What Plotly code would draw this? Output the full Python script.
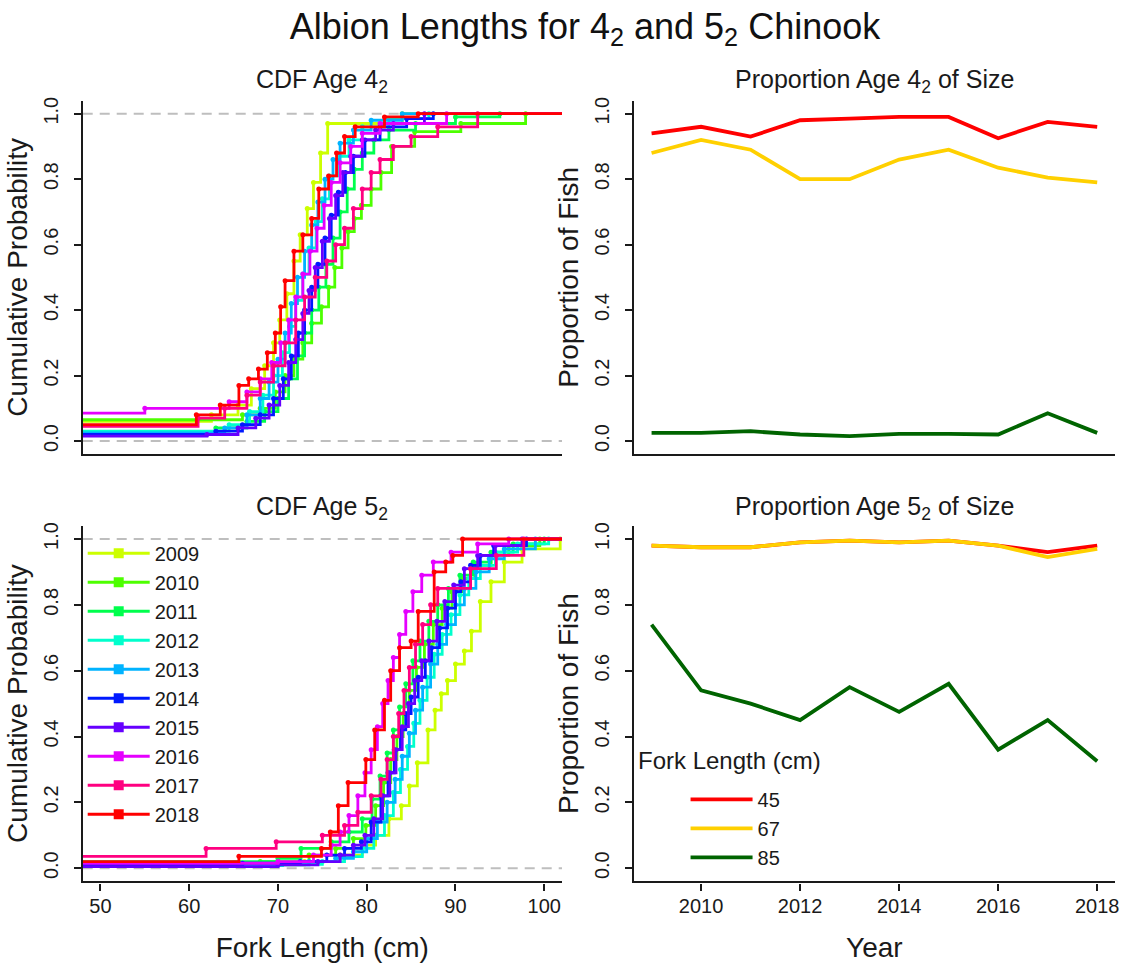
import plotly.graph_objects as go

W, H = 1126, 970
FONT = "Liberation Sans, Arial, sans-serif"
INK = "#1a1a1a"

# ---------------- data ----------------
years = [2009, 2010, 2011, 2012, 2013, 2014, 2015, 2016, 2017, 2018]
year_colors = ["#CCFF00", "#4DFF00", "#00FF4D", "#00FFCC", "#00B3FF",
               "#0019FF", "#6600FF", "#E500FF", "#FF0080", "#FF0000"]

# Age 4_2 empirical CDFs: level left of the plotted range, then (fork length, cumulative probability) steps
a4_start = [0.06, 0.065, 0.025, 0.03, 0.025, 0.02, 0.015, 0.085, 0.045, 0.05]
a4_2009_fl = [62.5, 65.5, 67.0, 68.5, 69.5, 70.2, 71.0, 71.8, 72.5, 73.3, 74.0, 74.8, 75.6, 84.0]
a4_2009_p = [0.08, 0.11, 0.16, 0.23, 0.30, 0.37, 0.45, 0.55, 0.63, 0.71, 0.79, 0.88, 0.97, 1.0]
a4_2010_fl = [66.0, 68.0, 69.7, 70.8, 71.8, 72.8, 73.8, 74.9, 75.7, 76.4, 77.2, 77.9, 78.6, 79.4, 80.5, 81.6, 82.8, 85.4, 90.6, 97.9]
a4_2010_p = [0.08, 0.10, 0.15, 0.20, 0.25, 0.30, 0.36, 0.41, 0.47, 0.53, 0.59, 0.64, 0.68, 0.72, 0.77, 0.82, 0.90, 0.945, 0.97, 1.0]
a4_2011_fl = [63.0, 66.5, 68.5, 70.0, 71.2, 72.2, 73.0, 73.8, 74.6, 75.4, 76.2, 77.0, 77.8, 78.6, 79.5, 80.8, 82.5, 85.5, 90.0, 95.0]
a4_2011_p = [0.04, 0.06, 0.09, 0.13, 0.19, 0.26, 0.33, 0.40, 0.47, 0.54, 0.62, 0.70, 0.77, 0.83, 0.88, 0.92, 0.95, 0.97, 0.99, 1.0]
a4_2012_fl = [64.5, 66.8, 68.3, 69.5, 70.5, 71.3, 72.0, 72.8, 73.5, 74.3, 75.0, 75.8, 76.8, 78.0, 79.5, 82.5, 87.0]
a4_2012_p = [0.05, 0.09, 0.14, 0.20, 0.27, 0.35, 0.43, 0.51, 0.59, 0.67, 0.74, 0.81, 0.87, 0.92, 0.96, 0.985, 1.0]
a4_2013_fl = [64.0, 66.5, 68.0, 69.0, 70.0, 70.8, 71.5, 72.2, 73.0, 73.8, 74.5, 75.3, 76.2, 77.0, 78.5, 80.5, 84.0]
a4_2013_p = [0.04, 0.08, 0.13, 0.18, 0.25, 0.33, 0.42, 0.50, 0.58, 0.66, 0.73, 0.80, 0.86, 0.91, 0.95, 0.98, 1.0]
a4_2014_fl = [63.0, 66.0, 68.0, 69.5, 70.6, 71.5, 72.3, 73.0, 73.8, 74.5, 75.3, 76.0, 76.8, 77.6, 78.5, 79.8, 81.5, 84.5, 87.5]
a4_2014_p = [0.03, 0.05, 0.08, 0.13, 0.19, 0.26, 0.33, 0.40, 0.47, 0.54, 0.62, 0.69, 0.76, 0.82, 0.87, 0.92, 0.96, 0.985, 1.0]
a4_2015_fl = [62.0, 65.5, 67.5, 69.0, 70.2, 71.2, 72.0, 72.8, 73.5, 74.2, 75.0, 75.8, 76.5, 77.3, 78.2, 79.5, 81.0, 83.0, 86.5]
a4_2015_p = [0.02, 0.04, 0.07, 0.11, 0.17, 0.24, 0.31, 0.39, 0.46, 0.53, 0.61, 0.68, 0.75, 0.82, 0.87, 0.92, 0.95, 0.97, 1.0]
a4_2016_fl = [55.0, 64.5, 66.5, 68.0, 69.3, 70.3, 71.2, 72.0, 72.8, 73.6, 74.4, 75.2, 76.0, 77.0, 78.2, 79.5, 81.5, 89.0]
a4_2016_p = [0.10, 0.12, 0.15, 0.19, 0.24, 0.30, 0.37, 0.44, 0.51, 0.58, 0.65, 0.72, 0.79, 0.85, 0.90, 0.94, 0.97, 1.0]
a4_2017_fl = [61.0, 64.0, 66.5, 68.0, 69.5, 70.8, 72.0, 73.0, 74.2, 75.5, 76.5, 77.5, 78.5, 79.5, 80.5, 81.5, 83.0, 85.0, 88.0, 92.5]
a4_2017_p = [0.07, 0.10, 0.14, 0.18, 0.23, 0.30, 0.37, 0.44, 0.50, 0.55, 0.60, 0.65, 0.71, 0.77, 0.82, 0.86, 0.90, 0.93, 0.96, 1.0]
a4_2018_fl = [60.8, 63.5, 65.6, 66.7, 67.8, 68.8, 69.7, 70.3, 70.8, 71.8, 72.8, 73.8, 74.6, 75.7, 76.6, 77.5, 78.7, 82.0, 85.8]
a4_2018_p = [0.08, 0.11, 0.17, 0.19, 0.22, 0.27, 0.33, 0.41, 0.49, 0.58, 0.63, 0.68, 0.77, 0.81, 0.88, 0.93, 0.96, 0.99, 1.0]

# Age 5_2 empirical CDFs
a5_start = [0.01, 0.012, 0.02, 0.008, 0.005, 0.01, 0.005, 0.015, 0.036, 0.02]
a5_2009_fl = [73.0, 77.0, 79.5, 81.0, 82.5, 83.9, 84.8, 85.7, 86.9, 87.7, 88.4, 89.1, 90.0, 91.0, 91.8, 92.8, 94.0, 95.5, 97.5, 101.8]
a5_2009_p = [0.02, 0.04, 0.07, 0.10, 0.15, 0.19, 0.25, 0.32, 0.42, 0.48, 0.53, 0.57, 0.62, 0.66, 0.72, 0.81, 0.87, 0.93, 0.97, 1.0]
a5_2010_fl = [68.0, 73.5, 76.5, 78.5, 79.9, 81.0, 81.9, 82.7, 83.4, 84.1, 84.8, 85.6, 86.5, 87.5, 88.5, 89.6, 90.8, 92.2, 94.0, 96.0, 99.5]
a5_2010_p = [0.02, 0.04, 0.06, 0.09, 0.13, 0.19, 0.26, 0.33, 0.40, 0.47, 0.54, 0.61, 0.68, 0.74, 0.79, 0.84, 0.88, 0.92, 0.95, 0.98, 1.0]
a5_2011_fl = [70.0, 72.6, 76.0, 78.0, 79.5, 80.6, 81.5, 82.3, 83.0, 83.7, 84.4, 85.2, 86.0, 87.0, 88.0, 89.2, 90.5, 92.0, 94.0, 96.5, 100.0]
a5_2011_p = [0.03, 0.06, 0.08, 0.11, 0.15, 0.21, 0.28, 0.35, 0.42, 0.49, 0.56, 0.63, 0.69, 0.75, 0.80, 0.85, 0.89, 0.93, 0.96, 0.985, 1.0]
a5_2012_fl = [70.5, 75.0, 77.5, 79.5, 80.8, 82.0, 83.0, 83.8, 84.6, 85.3, 86.0, 86.8, 87.6, 88.5, 89.5, 90.5, 91.5, 92.8, 94.5, 97.0, 100.5]
a5_2012_p = [0.012, 0.02, 0.035, 0.06, 0.10, 0.16, 0.23, 0.30, 0.37, 0.44, 0.51, 0.58, 0.65, 0.71, 0.77, 0.83, 0.88, 0.92, 0.96, 0.985, 1.0]
a5_2013_fl = [68.0, 73.5, 76.5, 78.5, 80.0, 81.2, 82.3, 83.2, 84.0, 84.8, 85.5, 86.3, 87.2, 88.0, 89.0, 90.0, 91.0, 92.3, 93.8, 95.5, 99.0]
a5_2013_p = [0.01, 0.02, 0.03, 0.05, 0.09, 0.14, 0.20, 0.27, 0.34, 0.41, 0.48, 0.55, 0.62, 0.68, 0.74, 0.80, 0.85, 0.90, 0.94, 0.97, 1.0]
a5_2014_fl = [66.0, 72.5, 75.5, 77.5, 79.4, 80.5, 81.6, 82.4, 83.1, 83.8, 84.4, 85.0, 85.8, 86.6, 87.3, 88.2, 89.1, 90.0, 90.6, 91.7, 92.8, 94.3, 98.0]
a5_2014_p = [0.015, 0.02, 0.04, 0.06, 0.08, 0.14, 0.22, 0.29, 0.36, 0.42, 0.47, 0.52, 0.58, 0.63, 0.67, 0.73, 0.79, 0.84, 0.87, 0.92, 0.95, 0.98, 1.0]
a5_2015_fl = [70.0, 74.5, 77.0, 78.5, 79.8, 80.8, 81.8, 82.6, 83.3, 84.0, 84.7, 85.4, 86.2, 87.0, 87.9, 88.8, 89.8, 91.0, 92.5, 94.5, 97.5]
a5_2015_p = [0.01, 0.02, 0.04, 0.07, 0.10, 0.15, 0.22, 0.29, 0.36, 0.43, 0.50, 0.57, 0.63, 0.69, 0.75, 0.81, 0.86, 0.91, 0.95, 0.98, 1.0]
a5_2016_fl = [70.0, 74.0, 76.0, 77.0, 78.0, 79.0, 79.8, 80.5, 81.2, 81.8, 82.4, 83.0, 83.7, 84.4, 85.2, 86.2, 87.5, 89.5, 92.5, 96.0]
a5_2016_p = [0.02, 0.04, 0.07, 0.11, 0.16, 0.22, 0.29, 0.36, 0.43, 0.50, 0.57, 0.64, 0.71, 0.78, 0.84, 0.89, 0.93, 0.96, 0.985, 1.0]
a5_2017_fl = [61.9, 69.8, 75.0, 77.5, 79.0, 80.5, 81.6, 82.3, 83.0, 83.6, 84.2, 84.8, 85.5, 86.3, 87.2, 88.0, 91.7, 94.6, 97.7]
a5_2017_p = [0.06, 0.08, 0.10, 0.13, 0.17, 0.22, 0.27, 0.33, 0.40, 0.47, 0.54, 0.61, 0.68, 0.74, 0.80, 0.85, 0.91, 0.95, 1.0]
a5_2018_fl = [65.6, 74.9, 75.9, 76.8, 77.9, 79.9, 80.9, 82.0, 82.7, 83.7, 85.0, 85.8, 87.6, 88.9, 89.7, 90.8]
a5_2018_p = [0.036, 0.06, 0.11, 0.19, 0.26, 0.33, 0.42, 0.51, 0.60, 0.67, 0.69, 0.78, 0.90, 0.93, 0.95, 1.0]

# Proportion of each age that is at least the given fork length, by year
prop_years = [2009, 2010, 2011, 2012, 2013, 2014, 2015, 2016, 2017, 2018]
size_labels = ["45", "67", "85"]
size_colors = ["#FF0000", "#FFD000", "#006400"]
a4_prop_45 = [0.94, 0.96, 0.93, 0.98, 0.985, 0.99, 0.99, 0.925, 0.975, 0.96]
a4_prop_67 = [0.88, 0.92, 0.89, 0.80, 0.80, 0.86, 0.89, 0.835, 0.805, 0.79]
a4_prop_85 = [0.025, 0.025, 0.03, 0.02, 0.015, 0.022, 0.022, 0.02, 0.085, 0.025]
a5_prop_45 = [0.98, 0.975, 0.975, 0.99, 0.995, 0.99, 0.995, 0.98, 0.96, 0.98]
a5_prop_67 = [0.98, 0.975, 0.975, 0.99, 0.995, 0.99, 0.995, 0.98, 0.945, 0.97]
a5_prop_85 = [0.74, 0.54, 0.50, 0.45, 0.55, 0.475, 0.56, 0.36, 0.45, 0.325]

cdf_xrange = [48, 102]
prop_xrange = [2008.64, 2018.36]
p_range = [-0.04, 1.04]

a4_fl = [a4_2009_fl, a4_2010_fl, a4_2011_fl, a4_2012_fl, a4_2013_fl,
         a4_2014_fl, a4_2015_fl, a4_2016_fl, a4_2017_fl, a4_2018_fl]
a4_p = [a4_2009_p, a4_2010_p, a4_2011_p, a4_2012_p, a4_2013_p,
        a4_2014_p, a4_2015_p, a4_2016_p, a4_2017_p, a4_2018_p]
a5_fl = [a5_2009_fl, a5_2010_fl, a5_2011_fl, a5_2012_fl, a5_2013_fl,
         a5_2014_fl, a5_2015_fl, a5_2016_fl, a5_2017_fl, a5_2018_fl]
a5_p = [a5_2009_p, a5_2010_p, a5_2011_p, a5_2012_p, a5_2013_p,
        a5_2014_p, a5_2015_p, a5_2016_p, a5_2017_p, a5_2018_p]

# ---------------- figure ----------------
fig = go.Figure()

def add_cdf(xa, ya, starts, fls, ps):
    for yr, col, s, fl, p in zip(years, year_colors, starts, fls, ps):
        xs = [cdf_xrange[0] - 2] + list(fl) + [cdf_xrange[1] + 2]
        ys = [s] + list(p) + [1.0]
        fig.add_trace(go.Scatter(
            x=xs, y=ys, mode="lines+markers", line_shape="hv",
            line=dict(color=col, width=2.8),
            marker=dict(color=col, size=5, symbol="circle"),
            name=str(yr), legendgroup=str(yr), showlegend=False,
            xaxis=xa, yaxis=ya, hoverinfo="x+y+name"))

add_cdf("x", "y", a4_start, a4_fl, a4_p)
add_cdf("x3", "y3", a5_start, a5_fl, a5_p)

# legend entries for years (square symbol as in the original key)
for yr, col in zip(years, year_colors):
    fig.add_trace(go.Scatter(
        x=[None], y=[None], mode="lines+markers",
        line=dict(color=col, width=3),
        marker=dict(color=col, size=10, symbol="square"),
        name=str(yr), legendgroup=str(yr), showlegend=True,
        xaxis="x3", yaxis="y3", legend="legend"))

for xa, ya, series in (("x2", "y2", [a4_prop_45, a4_prop_67, a4_prop_85]),
                       ("x4", "y4", [a5_prop_45, a5_prop_67, a5_prop_85])):
    for lab, col, vals in zip(size_labels, size_colors, series):
        fig.add_trace(go.Scatter(
            x=prop_years, y=vals, mode="lines",
            line=dict(color=col, width=3.8),
            name=lab, legendgroup="fl" + lab,
            showlegend=(xa == "x4"), legend="legend2",
            xaxis=xa, yaxis=ya))

# reference lines at 0 and 1 on the CDF panels
for xa, ya in (("x", "y"), ("x3", "y3")):
    for lvl in (0, 1):
        fig.add_shape(type="line", xref=xa + " domain", yref=ya,
                      x0=0, x1=1, y0=lvl, y1=lvl,
                      line=dict(color="#BEBEBE", width=2, dash="10px,7px"),
                      layer="below")

def px(x):
    return x / W

def py(y):
    return 1 - y / H

xL = [px(83), px(564)]
xR = [px(636), px(1119)]
yT = [py(452), py(97)]
yB = [py(881), py(524)]

TICK = 20
AXT = 28
axis_common = dict(showline=True, linecolor=INK, linewidth=2.4, showgrid=False,
                   zeroline=False, ticks="outside", ticklen=7, tickwidth=2.2,
                   tickcolor=INK, tickfont=dict(size=TICK, color=INK, family=FONT))
pticks = [0, 0.2, 0.4, 0.6, 0.8, 1.0]
pticktext = ["0.0", "0.2", "0.4", "0.6", "0.8", "1.0"]

def yax(domain, title, anchor):
    return dict(axis_common, domain=domain, range=p_range, anchor=anchor,
                tickvals=pticks, ticktext=pticktext, tickangle=-90,
                ticklabelstandoff=8,
                title=dict(text=title, font=dict(size=AXT, color=INK, family=FONT), standoff=4))

fig.update_layout(
    width=W, height=H, autosize=False,
    margin=dict(l=0, r=0, t=0, b=0),
    paper_bgcolor="white", plot_bgcolor="white",
    font=dict(family=FONT, color=INK),
    title=dict(text="Albion Lengths for 4<sub>2</sub> and 5<sub>2</sub> Chinook",
               x=px(585), xanchor="center", y=py(26), yanchor="middle",
               font=dict(size=36, color="#111111", family=FONT)),
    xaxis=dict(axis_common, domain=xL, range=cdf_xrange, anchor="y",
               ticks="", showticklabels=False),
    yaxis=yax(yT, "Cumulative Probability", "x"),
    xaxis2=dict(axis_common, domain=xR, range=prop_xrange, anchor="y2",
                ticks="", showticklabels=False),
    yaxis2=yax(yT, "Proportion of Fish", "x2"),
    xaxis3=dict(axis_common, domain=xL, range=cdf_xrange, anchor="y3",
                tickvals=[50, 60, 70, 80, 90, 100], ticklabelstandoff=-2,
                title=dict(text="Fork Length (cm)", font=dict(size=AXT, color=INK, family=FONT), standoff=22)),
    yaxis3=yax(yB, "Cumulative Probability", "x3"),
    xaxis4=dict(axis_common, domain=xR, range=prop_xrange, anchor="y4",
                tickvals=[2010, 2012, 2014, 2016, 2018], ticklabelstandoff=-2,
                title=dict(text="Year", font=dict(size=AXT, color=INK, family=FONT), standoff=22)),
    yaxis4=yax(yB, "Proportion of Fish", "x4"),
    legend=dict(x=px(83), y=py(532), xanchor="left", yanchor="top",
                bgcolor="rgba(0,0,0,0)", borderwidth=0,
                font=dict(size=20, color=INK, family=FONT),
                itemwidth=62, tracegroupgap=0, itemclick="toggle"),
    legend2=dict(x=px(688), y=py(779), xanchor="left", yanchor="top",
                 bgcolor="rgba(0,0,0,0)", borderwidth=0,
                 font=dict(size=20, color=INK, family=FONT),
                 itemwidth=62, tracegroupgap=0),
    showlegend=True,
)

subtitles = [("CDF Age 4<sub>2</sub>", (83 + 564) / 2, 77),
             ("Proportion Age 4<sub>2</sub> of Size", (636 + 1119) / 2, 77),
             ("CDF Age 5<sub>2</sub>", (83 + 564) / 2, 506),
             ("Proportion Age 5<sub>2</sub> of Size", (636 + 1119) / 2, 506)]
for txt, cx, cy in subtitles:
    fig.add_annotation(text=txt, x=px(cx), y=py(cy), xref="paper", yref="paper",
                       xanchor="center", yanchor="middle", showarrow=False,
                       font=dict(size=25, color=INK, family=FONT))

fig.add_annotation(text="Fork Length (cm)", x=px(638), y=py(760), xref="paper", yref="paper",
                   xanchor="left", yanchor="middle", showarrow=False,
                   font=dict(size=24, color=INK, family=FONT))

fig.write_html("out.html")
